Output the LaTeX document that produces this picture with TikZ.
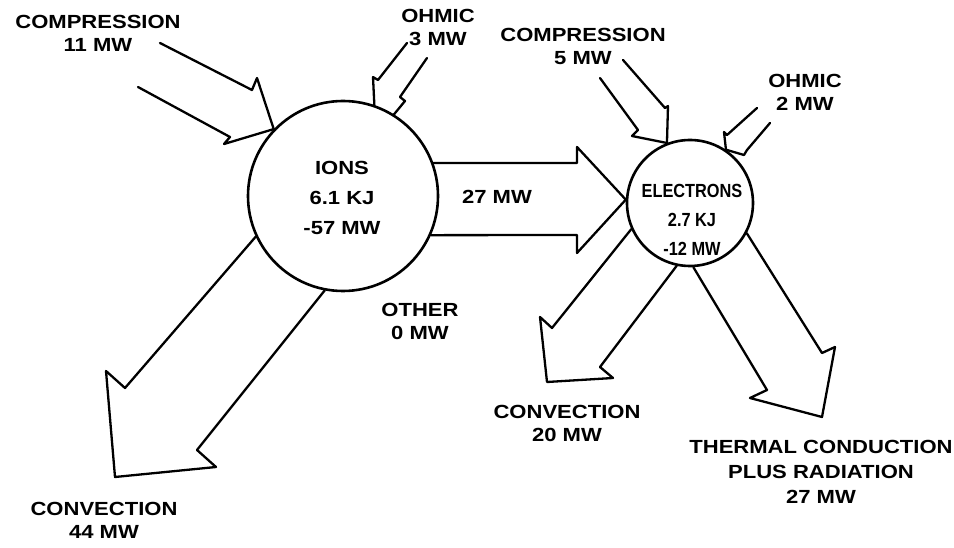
\documentclass[tikz,border=0pt]{standalone}
\usepackage{fontspec}
\newfontfamily\labfont{Liberation Sans Bold}[FakeStretch=1.16]
\newfontfamily\elfont{Liberation Sans Bold}[FakeStretch=0.86]
\begin{document}
\begin{tikzpicture}[x=1pt,y=-1pt,
  lbl/.style={font=\labfont\fontsize{19}{23}\selectfont, align=center, inner sep=0pt},
  inlbl/.style={font=\labfont\fontsize{19}{30}\selectfont, align=center, inner sep=0pt},
  elbl/.style={font=\elfont\fontsize{19}{29}\selectfont, align=center, inner sep=0pt},
  blob/.style={draw, circle, line width=2.6pt, inner sep=0pt},
  flow/.style={draw, line width=2.3pt, line join=round, line cap=round}]
\path[use as bounding box] (0,0) rectangle (954,548);

% reservoirs
\node[blob, minimum size=190pt] (ions) at (343,196) {};
\node[blob, minimum size=126pt] (elec) at (690,203) {};
\node[inlbl] (ionstxt) at (342,198) {IONS\\6.1 KJ\\-57 MW};
\node[elbl] (electxt) at (692,220) {ELECTRONS\\2.7 KJ\\-12 MW};

% ion to electron transfer
\draw[flow] (ions.20) -- (577,163) -- (577,147) -- (elec.177) -- (577,253) -- (577,235) -- (ions.-24);
\node[lbl] (xfer) at (497,197) {27 MW};

% ion compression
\coordinate (cp1) at (160,43);
\coordinate (cp2) at (138,87);
\draw[flow] (cp1) -- (252,90) -- (257,78) -- (ions.136);
\draw[flow] (cp2) -- (230,137) -- (224,144) -- (ions.136);
\node[lbl] (cpl) at (98,33) {COMPRESSION\\11 MW};

% ion ohmic
\coordinate (oh1) at (407,43);
\coordinate (oh2) at (427,58);
\draw[flow] (oh1) -- (378,80) -- (373,77) -- (ions.71);
\draw[flow] (oh2) -- (400,97) -- (405,101) -- (ions.58);
\node[lbl] (ohl) at (438,27) {OHMIC\\3 MW};

% ion convection
\draw[flow] (ions.205) -- (125,388) -- (106,371) -- (115,477) -- (216,467) -- (197,450) -- (ions.259);
\node[lbl] (icv) at (104,520) {CONVECTION\\44 MW};

% other
\node[lbl] (oth) at (420,321) {OTHER\\0 MW};

% electron compression
\coordinate (ec1) at (600,78);
\coordinate (ec2) at (623,60);
\draw[flow] (ec1) -- (638,130) -- (632,136) -- (elec.111);
\draw[flow] (ec2) -- (665,108) -- (668,106) -- (elec.111);
\node[lbl] (ecl) at (583,46) {COMPRESSION\\5 MW};

% electron ohmic
\coordinate (eo1) at (757,108);
\coordinate (eo2) at (770,123);
\draw[flow] (eo1) -- (727,135) -- (724,132) -- (elec.56);
\draw[flow] (eo2) -- (747,150) -- (744,155) -- (elec.56);
\node[lbl] (eol) at (805,92) {OHMIC\\2 MW};

% electron convection
\draw[flow] (elec.204) -- (552,328) -- (540,317) -- (547,382) -- (613,378) -- (600,367) -- (elec.258);
\node[lbl] (ecv) at (567,423) {CONVECTION\\20 MW};

% thermal conduction plus radiation
\draw[flow] (elec.273) -- (767,390) -- (750,398) -- (822,417) -- (835,347) -- (822,353) -- (elec.332);
\node[lbl, font=\labfont\fontsize{19}{25}\selectfont] (thl) at (821,472) {THERMAL CONDUCTION\\PLUS RADIATION\\27 MW};
\end{tikzpicture}
\end{document}
